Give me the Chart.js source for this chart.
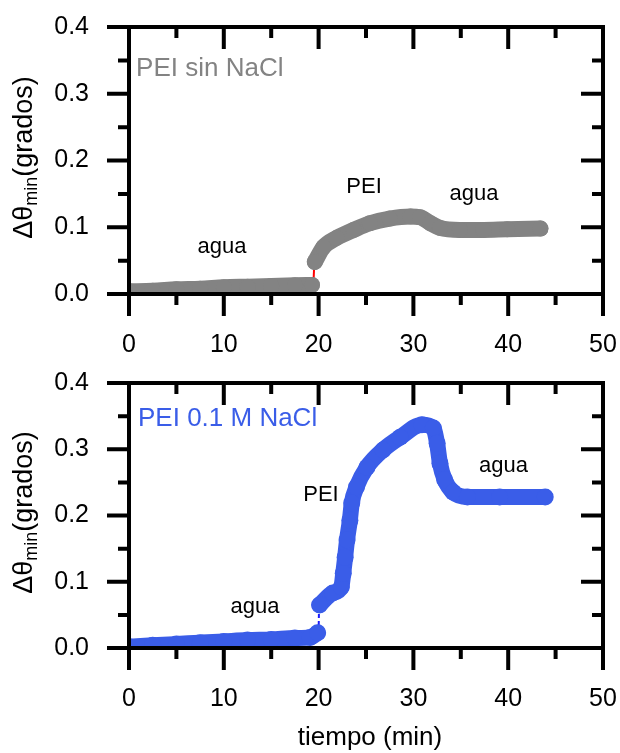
<!DOCTYPE html>
<html>
<head>
<meta charset="utf-8">
<script src="https://cdn.jsdelivr.net/npm/chart.js@4"></script>
<style>
  body { margin: 0; background: #fff; width: 620px; height: 753px; position: relative; overflow: hidden; }
  canvas { position: absolute; left: 0; }
  #topChart { top: 0; }
  #bottomChart { top: 360px; }
</style>
</head>
<body>
<canvas id="topChart" width="620" height="360"></canvas>
<canvas id="bottomChart" width="620" height="393"></canvas>
<script>
// ticks
const xTicks = [0, 10, 20, 30, 40, 50]
const xMinor = [5, 15, 25, 35, 45]
const yTicks = [0, 0.1, 0.2, 0.3, 0.4]
const yMinor = [0.05, 0.15, 0.25, 0.35]

// PEI sin NaCl (gris)
const grayBeforeT = [0, 2.5, 5, 7.5, 10, 12.5, 15, 17.5, 19.3]
const grayBeforeY = [0.004, 0.005, 0.007, 0.008, 0.010, 0.011, 0.012, 0.013, 0.0135]
const grayAfterT = [19.6, 20.5, 21.9, 23.7, 25.4, 27.5, 29.7, 30.7, 31.8, 32.8, 34.9, 37.4, 39.9, 43.4]
const grayAfterY = [0.048, 0.070, 0.084, 0.096, 0.106, 0.113, 0.116, 0.115, 0.106, 0.099, 0.096, 0.096, 0.097, 0.098]
const grayGapT = [19.45, 19.55]
const grayGapY = [0.014, 0.048]

// PEI 0.1 M NaCl (azul)
const blueBeforeT = [0, 2.5, 5, 7.5, 10, 12.5, 15, 17.5, 19.1, 19.9]
const blueBeforeY = [0.002, 0.004, 0.006, 0.008, 0.010, 0.012, 0.013, 0.015, 0.016, 0.023]
const blueAfterT = [20.1, 21.5, 22.4, 22.6, 22.8, 23.0, 23.3, 23.5, 24.0, 25.1, 26.8, 28.6, 30.9, 32.1, 32.5, 32.8, 33.3, 34.2, 35.7, 39.1, 43.9]
const blueAfterY = [0.065, 0.083, 0.092, 0.113, 0.137, 0.163, 0.193, 0.219, 0.243, 0.273, 0.299, 0.318, 0.337, 0.332, 0.309, 0.279, 0.254, 0.235, 0.228, 0.228, 0.228]
const blueGapT = [20.0, 20.05]
const blueGapY = [0.024, 0.065]

// anotaciones (coordenadas de datos)
const topNoteText = ['PEI sin NaCl', 'agua', 'PEI', 'agua']
const topNoteX = [0.75, 9.8, 24.8, 36.4]
const topNoteY = [0.337, 0.071, 0.160, 0.150]
const bottomNoteText = ['PEI 0.1 M NaCl', 'agua', 'PEI', 'agua']
const bottomNoteX = [0.95, 13.3, 20.25, 39.5]
const bottomNoteY = [0.346, 0.062, 0.231, 0.275]

const GRAY = '#838383'
const BLUE = '#3a5de8'
const FONT = "'Liberation Sans', Arial, sans-serif"

const toPoints = (t, v) => t.map((x, i) => ({ x: x, y: v[i] }))

const band = (t, v, color, r) => ({
    data: toPoints(t, v),
    borderColor: color,
    backgroundColor: color,
    borderWidth: 16,
    borderCapStyle: 'round',
    borderJoinStyle: 'round',
    cubicInterpolationMode: 'monotone',
    pointRadius: r,
    pointBorderWidth: 0,
    clip: 0
})

const gap = (t, v, color, dash) => ({
    data: toPoints(t, v),
    borderColor: color,
    borderWidth: 2,
    borderDash: dash,
    pointRadius: 0,
    clip: 0,
    order: 10
})

// marco con ticks mayores y menores
const framePlugin = {
    id: 'frame',
    afterDatasetsDraw(chart) {
        const { ctx, chartArea: a, scales: { x, y } } = chart
        ctx.save()
        ctx.strokeStyle = '#000'
        ctx.lineWidth = 4
        ctx.strokeRect(a.left, a.top, a.right - a.left, a.bottom - a.top)
        ctx.beginPath()
        const xt = (v, len) => {
            const px = x.getPixelForValue(v)
            ctx.moveTo(px, a.bottom); ctx.lineTo(px, a.bottom + len)
            ctx.moveTo(px, a.top); ctx.lineTo(px, a.top + len)
        }
        const yt = (v, len) => {
            const py = y.getPixelForValue(v)
            ctx.moveTo(a.left - len, py); ctx.lineTo(a.left, py)
            ctx.moveTo(a.right - len, py); ctx.lineTo(a.right, py)
        }
        xTicks.forEach(v => xt(v, 22))
        xMinor.forEach(v => xt(v, 11))
        yTicks.forEach(v => yt(v, 22))
        yMinor.forEach(v => yt(v, 11))
        ctx.stroke()
        ctx.restore()
    }
}

// textos: anotaciones y títulos de ejes
const textPlugin = {
    id: 'texts',
    afterDraw(chart) {
        const { ctx, chartArea: a, scales: { x, y } } = chart
        const o = chart.options.plugins.texts
        ctx.save()
        ctx.textBaseline = 'middle'
        o.text.forEach((s, i) => {
            const first = i === 0
            ctx.font = (first ? '26px ' : '22px ') + FONT
            ctx.fillStyle = first ? o.color : '#000'
            ctx.textAlign = first ? 'left' : 'center'
            ctx.fillText(s, x.getPixelForValue(o.x[i]), y.getPixelForValue(o.y[i]))
        })

        // Δθmin(grados)
        const parts = [['Δθ', 27, 0], ['min', 18, 5], ['(grados)', 27, 0]]
        let w = 0
        parts.forEach(p => { ctx.font = p[1] + 'px ' + FONT; w += ctx.measureText(p[0]).width })
        ctx.translate(25, (a.top + a.bottom) / 2 - 3)
        ctx.rotate(-Math.PI / 2)
        ctx.textAlign = 'left'
        ctx.textBaseline = 'alphabetic'
        ctx.fillStyle = '#000'
        let pos = -w / 2
        parts.forEach(p => {
            ctx.font = p[1] + 'px ' + FONT
            ctx.fillText(p[0], pos, 7 + p[2])
            pos += ctx.measureText(p[0]).width
        })
        ctx.restore()

        if (o.xTitle) {
            ctx.save()
            ctx.font = '26px ' + FONT
            ctx.fillStyle = '#000'
            ctx.textAlign = 'center'
            ctx.textBaseline = 'alphabetic'
            ctx.fillText(o.xTitle, (a.left + a.right) / 2 + 4, 385)
            ctx.restore()
        }
    }
}

function makeChart(id, datasets, padTop, xHeight, notes) {
    const tickFont = { family: FONT, size: 25 }
    return new Chart(document.getElementById(id), {
        type: 'line',
        data: { datasets: datasets },
        options: {
            responsive: false,
            animation: false,
            devicePixelRatio: 1,
            layout: { padding: { top: padTop, right: 17, left: 0, bottom: 0 } },
            plugins: {
                legend: { display: false },
                tooltip: { enabled: false },
                texts: notes
            },
            scales: {
                x: {
                    type: 'linear',
                    min: 0,
                    max: 50,
                    grid: { display: false, drawTicks: false },
                    border: { display: false },
                    ticks: { stepSize: 10, maxRotation: 0, color: '#000', font: tickFont, padding: 36 },
                    afterFit: s => { s.height = xHeight; s.paddingLeft = 0; s.paddingRight = 0 }
                },
                y: {
                    min: 0,
                    max: 0.4,
                    grid: { display: false, drawTicks: false },
                    border: { display: false },
                    ticks: { stepSize: 0.1, color: '#000', font: tickFont, padding: 40, callback: v => v.toFixed(1) },
                    afterFit: s => { s.width = 129; s.paddingTop = 0; s.paddingBottom = 0 }
                }
            }
        },
        plugins: [framePlugin, textPlugin]
    })
}

makeChart('topChart', [
    gap(grayGapT, grayGapY, '#ff0000', []),
    band(grayBeforeT, grayBeforeY, GRAY, 8),
    band(grayAfterT, grayAfterY, GRAY, 8)
], 27, 66, { text: topNoteText, x: topNoteX, y: topNoteY, color: GRAY })

makeChart('bottomChart', [
    gap(blueGapT, blueGapY, '#1a1aff', [4, 3]),
    band(blueBeforeT, blueBeforeY, BLUE, 8.5),
    band(blueAfterT, blueAfterY, BLUE, 8.5)
], 23, 105, { text: bottomNoteText, x: bottomNoteX, y: bottomNoteY, color: BLUE, xTitle: 'tiempo (min)' })
</script>
</body>
</html>
